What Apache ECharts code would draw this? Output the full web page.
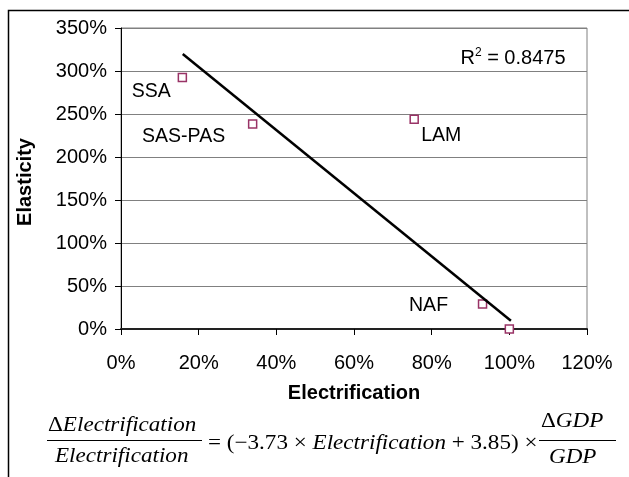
<!DOCTYPE html>
<html>
<head>
<meta charset="utf-8">
<script src="https://cdn.jsdelivr.net/npm/echarts@6/dist/echarts.min.js"></script>
<style>
html,body{margin:0;padding:0;background:#fff;}
#c{width:629px;height:477px;}
</style>
</head>
<body>
<div id="c"></div>
<script>
// ---- data ----
var regions = ['SSA', 'SAS-PAS', 'LAM', 'NAF', ''];
var electrification = [15.8, 33.9, 75.5, 93.1, 100.0];   // %
var elasticity = [292.5, 238.5, 244.0, 29.2, 0.0];        // %
var trendX = [15.9, 100.4];
var trendY = [319.8, 9.6];
var xTicks = [0, 20, 40, 60, 80, 100, 120];
var yTicks = [0, 50, 100, 150, 200, 250, 300, 350];
var rSquared = '0.8475';

// ---- layout / style ----
var SANS = '"Liberation Sans", Arial, sans-serif';
var SERIF = '"Liberation Serif", "Times New Roman", serif';
var labelOffsets = {
  'SSA': [-31, 14],
  'SAS-PAS': [-69, 13],
  'LAM': [27, 16],
  'NAF': [-54, 2]
};

var chart = echarts.init(document.getElementById('c'), null, {renderer: 'canvas'});

var scatterData = electrification.map(function (x, i) {
  var name = regions[i];
  var item = {value: [x, elasticity[i]], name: name};
  if (name && labelOffsets[name]) {
    item.label = {show: true, position: 'inside', offset: labelOffsets[name], formatter: name};
  }
  return item;
});

var mathRich = {
  u: {fontFamily: SERIF, fontSize: 21, fontStyle: 'normal', color: '#000'},
  i: {fontFamily: SERIF, fontSize: 21, fontStyle: 'italic', color: '#000'}
};

var SX = 1.1;

var option = {
  backgroundColor: '#fff',
  animation: false,
  grid: {
    left: 121, top: 28, width: 466, height: 301,
    show: true, borderColor: '#808080', borderWidth: 1, backgroundColor: 'transparent'
  },
  xAxis: {
    type: 'value',
    min: xTicks[0], max: xTicks[xTicks.length - 1], interval: 20,
    name: 'Electrification',
    nameLocation: 'middle',
    nameGap: 54,
    nameTextStyle: {fontFamily: SANS, fontSize: 20, fontWeight: 'bold', color: '#000'},
    axisLine: {show: true, lineStyle: {color: '#222', width: 2}},
    axisTick: {show: true, inside: false, length: 6, lineStyle: {color: '#000', width: 1}},
    axisLabel: {fontFamily: SANS, fontSize: 20, color: '#000', margin: 24, formatter: '{value}%'},
    splitLine: {show: false}
  },
  yAxis: {
    type: 'value',
    min: yTicks[0], max: yTicks[yTicks.length - 1], interval: 50,
    name: 'Elasticity',
    nameLocation: 'middle',
    nameGap: 86,
    nameRotate: 90,
    nameTextStyle: {fontFamily: SANS, fontSize: 20, fontWeight: 'bold', color: '#000', padding: [0, 7, 0, 0]},
    axisLine: {show: true, lineStyle: {color: '#000', width: 1}},
    axisTick: {show: true, inside: false, length: 6, lineStyle: {color: '#000', width: 1}},
    axisLabel: {fontFamily: SANS, fontSize: 20, color: '#000', margin: 14, formatter: '{value}%'},
    splitLine: {show: true, lineStyle: {color: '#808080', width: 1}}
  },
  series: [
    {
      type: 'scatter',
      data: scatterData,
      symbol: 'rect',
      symbolSize: 8,
      itemStyle: {color: '#ffffff', borderColor: '#993366', borderWidth: 1.5, opacity: 1},
      label: {show: false, fontFamily: SANS, fontSize: 19.5, color: '#000'},
      z: 3
    },
    {
      type: 'line',
      data: trendX.map(function (x, i) { return [x, trendY[i]]; }),
      showSymbol: false,
      symbol: 'none',
      lineStyle: {color: '#000', width: 2.5},
      z: 4
    }
  ],
  graphic: [
    {
      type: 'rect', silent: true, z: 0,
      shape: {x: 8.5, y: 10.5, width: 700, height: 600},
      style: {fill: 'none', stroke: '#000', lineWidth: 1.5}
    },
    {
      type: 'text', x: 513, y: 58, z: 10,
      style: {
        text: 'R{s|2} = ' + rSquared,
        rich: {s: {fontFamily: SANS, fontSize: 12, verticalAlign: 'top', padding: [0, 0, 10, 0], color: '#000'}},
        fontFamily: SANS, fontSize: 20, fill: '#000',
        align: 'center', verticalAlign: 'middle'
      }
    },
    // left fraction
    {
      type: 'text', x: 48, y: 425, scaleX: SX,
      style: {text: '{u|Δ}{i|Electrification}', rich: mathRich, align: 'left', verticalAlign: 'middle'}
    },
    {
      type: 'line', shape: {x1: 47, y1: 440.5, x2: 202, y2: 440.5},
      style: {stroke: '#000', lineWidth: 1.2}
    },
    {
      type: 'text', x: 55, y: 456, scaleX: SX,
      style: {text: '{i|Electrification}', rich: mathRich, align: 'left', verticalAlign: 'middle'}
    },
    // middle
    {
      type: 'text', x: 208, y: 443, scaleX: SX,
      style: {text: '{u|= (−3.73 × }{i|Electrification}{u| + 3.85) ×}', rich: mathRich, align: 'left', verticalAlign: 'middle'}
    },
    // right fraction
    {
      type: 'text', x: 541, y: 421, scaleX: SX,
      style: {text: '{u|Δ}{i|GDP}', rich: mathRich, align: 'left', verticalAlign: 'middle'}
    },
    {
      type: 'line', shape: {x1: 539, y1: 440.5, x2: 616, y2: 440.5},
      style: {stroke: '#000', lineWidth: 1.2}
    },
    {
      type: 'text', x: 549, y: 457, scaleX: SX,
      style: {text: '{i|GDP}', rich: mathRich, align: 'left', verticalAlign: 'middle'}
    }
  ]
};

chart.setOption(option);
</script>
</body>
</html>
